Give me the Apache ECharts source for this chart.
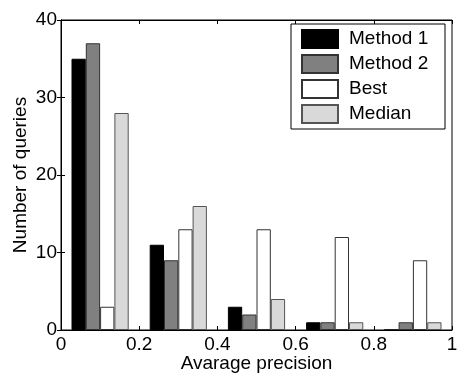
<!DOCTYPE html>
<html>
<head>
<meta charset="utf-8">
<script src="https://cdn.jsdelivr.net/npm/echarts@6/dist/echarts.min.js"></script>
<style>
  html, body { margin: 0; padding: 0; background: #fff; }
  #chart { width: 457px; height: 374px; }
</style>
</head>
<body>
<div id="chart"></div>
<script>
// bin centres of the histogram
const bins = ['0.1', '0.3', '0.5', '0.7', '0.9']
const method1 = [35, 11, 3, 1, 0]
const method2 = [37, 9, 2, 1, 1]
const best = [3, 13, 13, 12, 9]
const median = [28, 16, 4, 1, 1]
const yTicks = [0, 10, 20, 30, 40]
const xTicks = [0, 0.2, 0.4, 0.6, 0.8, 1]

const font = 'Liberation Sans, Arial, Helvetica, sans-serif'
const fs = 19

const chart = echarts.init(document.getElementById('chart'), null, { renderer: 'canvas' })

const bar = (name, data, color, border) => ({
  name: name,
  type: 'bar',
  xAxisIndex: 0,
  yAxisIndex: 0,
  data: data,
  barWidth: 14.3,
  barGap: '0%',
  itemStyle: { color: color, borderColor: border, borderWidth: 1 },
})

chart.setOption({
  animation: false,
  grid: {
    left: 61,
    right: 5,
    top: 20,
    bottom: 44,
    outerBoundsMode: 'none',
    containLabel: false,
    show: true,
    borderColor: '#000',
    borderWidth: 1,
  },
  legend: {
    left: 291,
    top: 24,
    orient: 'vertical',
    icon: 'rect',
    itemWidth: 36,
    itemHeight: 18,
    itemGap: 5,
    padding: [5, 10, 5, 10],
    borderColor: '#000',
    borderWidth: 1,
    borderRadius: 0,
    backgroundColor: '#fff',
    textStyle: {
      fontFamily: font, fontSize: fs, lineHeight: 18, color: '#000',
      width: 86, overflow: 'none', padding: [0, 0, 0, 6],
    },
    data: ['Method 1', 'Method 2', 'Best', 'Median'],
  },
  xAxis: [
    {
      type: 'category',
      data: bins,
      position: 'bottom',
      axisLine: { show: false },
      axisTick: { show: false },
      axisLabel: { show: false },
    },
    {
      type: 'value',
      min: xTicks[0],
      max: xTicks[xTicks.length - 1],
      interval: 0.2,
      position: 'bottom',
      name: 'Avarage precision',
      nameLocation: 'middle',
      nameGap: 24,
      nameMoveOverlap: false,
      nameTextStyle: { fontFamily: font, fontSize: fs, color: '#000' },
      axisLine: { show: true, lineStyle: { color: '#000' } },
      axisTick: { show: true, inside: true, length: 4, lineStyle: { color: '#000' } },
      axisLabel: { fontFamily: font, fontSize: fs, color: '#000', margin: 5 },
      splitLine: { show: false },
    },
    {
      type: 'value',
      min: xTicks[0],
      max: xTicks[xTicks.length - 1],
      interval: 0.2,
      position: 'top',
      axisLine: { show: true, lineStyle: { color: '#000' } },
      axisTick: { show: true, inside: true, length: 4, lineStyle: { color: '#000' } },
      axisLabel: { show: false },
      splitLine: { show: false },
    },
  ],
  yAxis: [
    {
      type: 'value',
      min: yTicks[0],
      max: yTicks[yTicks.length - 1],
      interval: 10,
      name: 'Number of queries',
      nameLocation: 'middle',
      nameGap: 31,
      nameMoveOverlap: false,
      nameTextStyle: { fontFamily: font, fontSize: fs, color: '#000' },
      axisLine: { show: true, lineStyle: { color: '#000' } },
      axisTick: { show: true, inside: true, length: 4, lineStyle: { color: '#000' } },
      axisLabel: { fontFamily: font, fontSize: fs, color: '#000', margin: 4 },
      splitLine: { show: false },
    },
    {
      type: 'value',
      min: yTicks[0],
      max: yTicks[yTicks.length - 1],
      interval: 10,
      position: 'right',
      axisLine: { show: true, lineStyle: { color: '#000' } },
      axisTick: { show: true, inside: true, length: 4, lineStyle: { color: '#000' } },
      axisLabel: { show: false },
      splitLine: { show: false },
    },
  ],
  series: [
    bar('Method 1', method1, '#000000', '#000000'),
    bar('Method 2', method2, '#808080', '#333333'),
    bar('Best', best, '#ffffff', '#333333'),
    bar('Median', median, '#d9d9d9', '#555555'),
  ],
})
</script>
</body>
</html>
